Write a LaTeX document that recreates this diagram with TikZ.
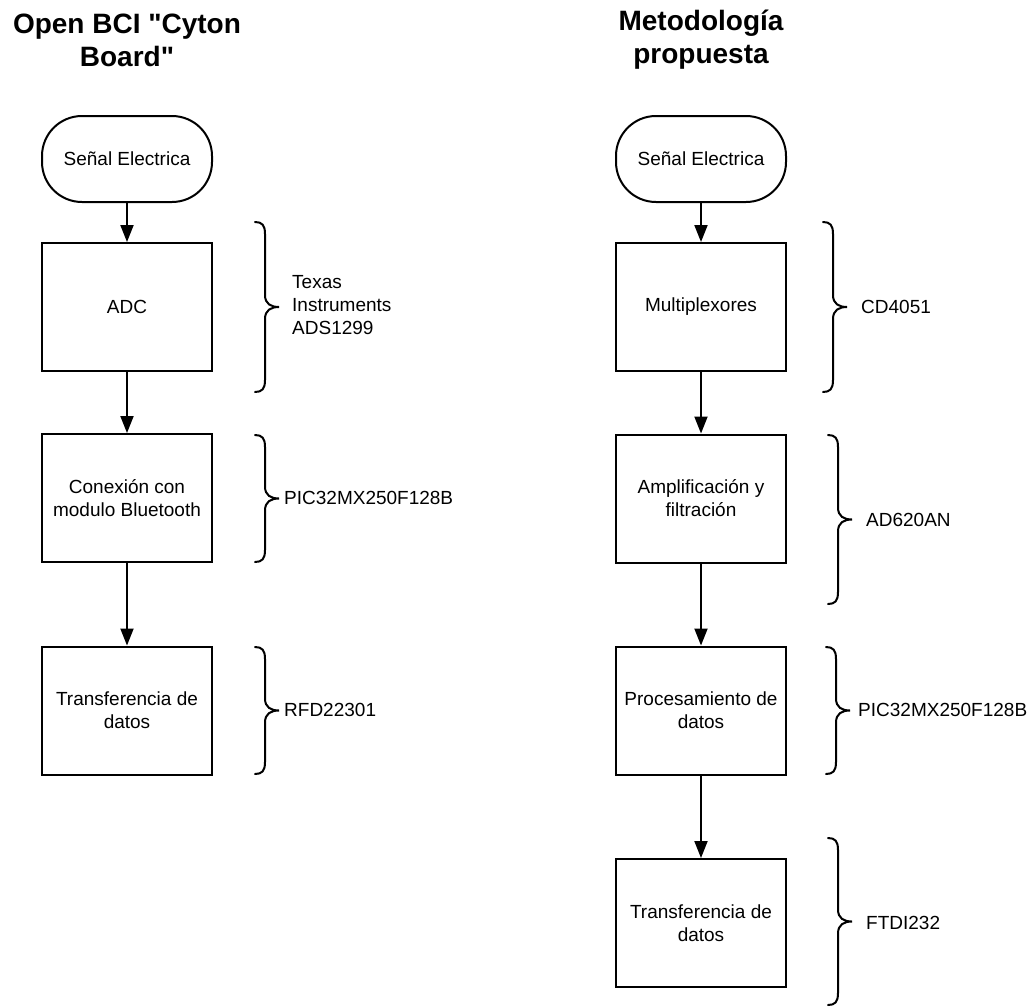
\documentclass[tikz,border=0pt]{standalone}
\usepackage{fontspec}
\setmainfont{Liberation Sans}[Ligatures=TeXOff]
\usetikzlibrary{arrows.meta}
\tikzset{
  box/.style={draw, line width=2pt, minimum width=170pt, minimum height=128pt, align=center, inner sep=0pt, font=\fontsize{19}{23}\selectfont},
  term/.style={draw, line width=2pt, minimum width=170pt, minimum height=86pt, rounded corners=40pt, inner sep=0pt, font=\fontsize{19}{23}\selectfont},
  ttl/.style={align=center, font=\bfseries\fontsize{28}{33}\selectfont},
  lbl/.style={anchor=west, align=left, inner sep=0pt, font=\fontsize{19}{23}\selectfont},
  arr/.style={-{Triangle[width=13pt,length=17pt]}, line width=2pt},
  brc/.style={line width=2pt, line cap=round}
}
\newcommand\mybrace[3]{%
  \pgfmathsetmacro\bmid{(#2+#3)/2}%
  \draw[brc] (#1,#2) .. controls (#1+7,#2) and (#1+10,#2+3) .. (#1+10,#2+12)
    -- (#1+10,\bmid-12) .. controls (#1+10,\bmid-3) and (#1+16,\bmid) .. (#1+24,\bmid)
    .. controls (#1+16,\bmid) and (#1+10,\bmid+3) .. (#1+10,\bmid+12)
    -- (#1+10,#3-12) .. controls (#1+10,#3-3) and (#1+7,#3) .. (#1,#3);
}
\begin{document}
\begin{tikzpicture}[x=1pt,y=-1pt]
\useasboundingbox (0,0) rectangle (1033,1007);
\fill[white] (0,0) rectangle (1033,1007);

% titles
\node[ttl] (tL) at (127,40) {Open BCI "Cyton\\Board"};
\node[ttl] (tR) at (701,40) {Metodología\\propuesta};

% left column
\node[term] (sL) at (127,159) {Señal Electrica};
\node[box] (adc) at (127,307) {ADC};
\node[box] (con) at (127,498) {Conexión con\\modulo Bluetooth};
\node[box] (trL) at (127,710.5) {Transferencia de\\datos};
\draw[arr] (sL) -- (adc);
\draw[arr] (adc) -- (con);
\draw[arr] (con) -- (trL);

\mybrace{255}{222}{392}
\mybrace{255}{435}{562}
\mybrace{255}{647}{774}
\node[lbl] (lb1) at (292,305) {Texas\\Instruments\\ADS1299};
\node[lbl] (lb2) at (284,498) {PIC32MX250F128B};
\node[lbl] (lb3) at (284,710) {RFD22301};

% right column
\node[term] (sR) at (701,159) {Señal Electrica};
\node[box] (mux) at (701,307) {Multiplexores};
\node[box] (amp) at (701,498.5) {Amplificación y\\filtración};
\node[box] (pro) at (701,710.5) {Procesamiento de\\datos};
\node[box] (trR) at (701,923) {Transferencia de\\datos};
\draw[arr] (sR) -- (mux);
\draw[arr] (mux) -- (amp);
\draw[arr] (amp) -- (pro);
\draw[arr] (pro) -- (trR);

\mybrace{823}{222}{392}
\mybrace{828}{435}{604}
\mybrace{826}{647}{774}
\mybrace{828}{838}{1005}
\node[lbl] (rb1) at (861,307) {CD4051};
\node[lbl] (rb2) at (866,520) {AD620AN};
\node[lbl] (rb3) at (858,710) {PIC32MX250F128B};
\node[lbl] (rb4) at (866,923) {FTDI232};
\end{tikzpicture}
\end{document}
